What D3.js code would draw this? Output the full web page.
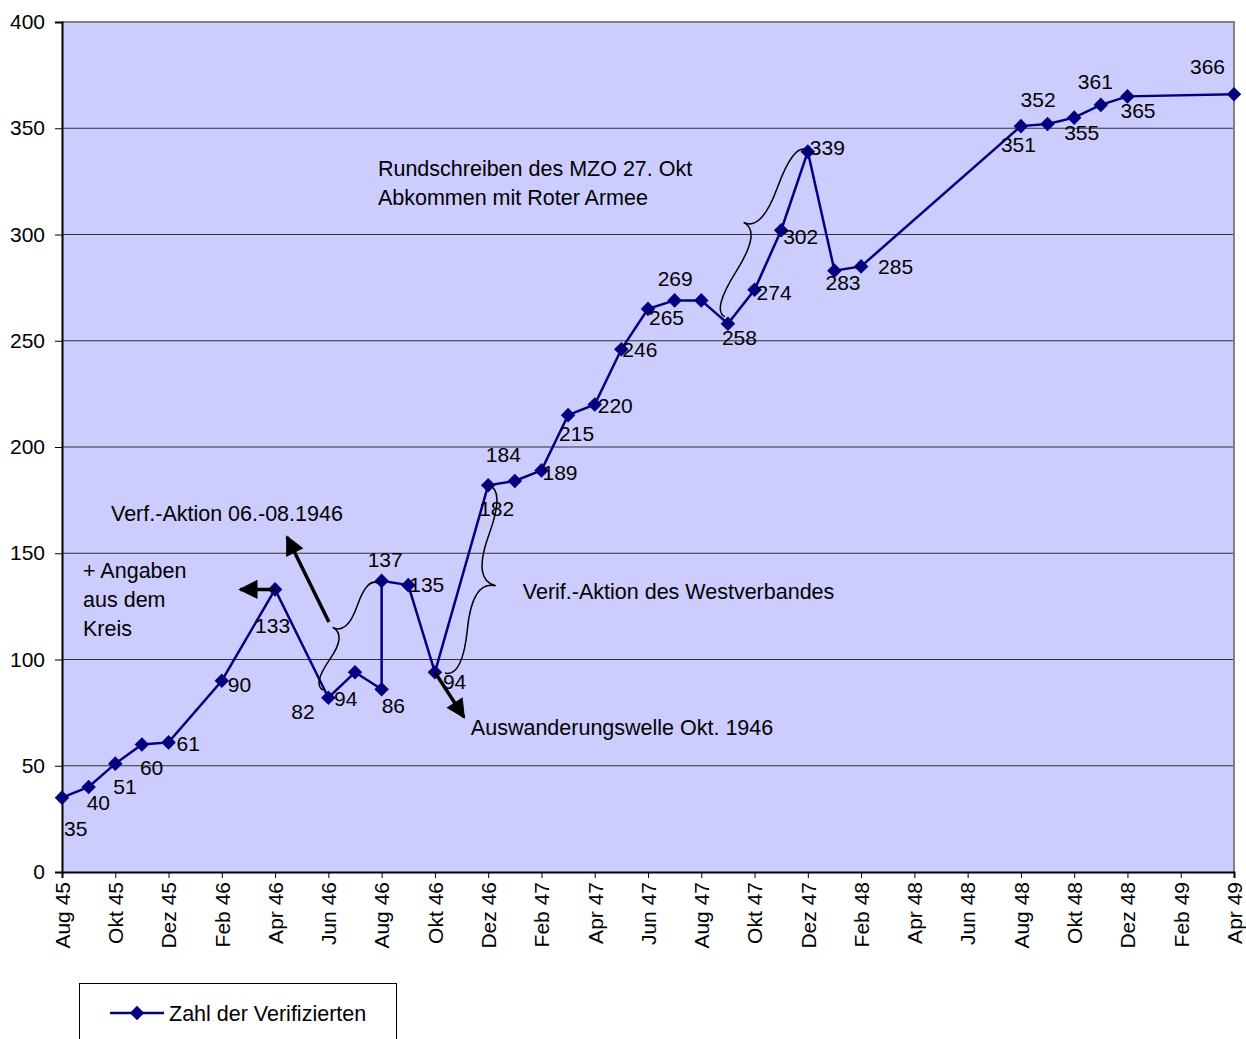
<!DOCTYPE html>
<html>
<head>
<meta charset="utf-8">
<script src="https://cdn.jsdelivr.net/npm/d3@7"></script>
<style>
  body { margin: 0; background: #fff; }
  text { font-family: "Liberation Sans", Arial, sans-serif; }
</style>
</head>
<body>
<div id="chart"></div>
<script>
// months of the readings (two readings in Aug 46)
var dates = ["1945-08","1945-09","1945-10","1945-11","1945-12","1946-02","1946-04",
  "1946-06","1946-07","1946-08","1946-08","1946-09","1946-10","1946-12",
  "1947-01","1947-02","1947-03","1947-04","1947-05","1947-06","1947-07","1947-08",
  "1947-09","1947-10","1947-11","1947-12","1948-01","1948-02",
  "1948-08","1948-09","1948-10","1948-11","1948-12","1949-04"];
var values = [35,40,51,60,61,90,133,82,94,86,137,135,94,182,184,189,215,220,246,
  265,269,269,258,274,302,339,283,285,351,352,355,361,365,366];
var tickLabels = ["Aug 45","Okt 45","Dez 45","Feb 46","Apr 46","Jun 46","Aug 46",
  "Okt 46","Dez 46","Feb 47","Apr 47","Jun 47","Aug 47","Okt 47","Dez 47","Feb 48",
  "Apr 48","Jun 48","Aug 48","Okt 48","Dez 48","Feb 49","Apr 49"];
var yTicks = [0,50,100,150,200,250,300,350,400];
var seriesName = "Zahl der Verifizierten";

// label placement for each point (px offset from the marker), null = no label
var labelOffsets = [[2,31],[-2,16],[-2,23],[-2,23],[8,1],[6,4],[-20,36],[-37,14],
  [-21,26],[0,16],[-14,-21],[1,0],[8,9],[-9,23],[-29,-26],[1,2],[-9,19],[3,1],
  [1,0],[1,9],[-17,-22],null,[-6,14],[2,3],[2,6],[2,-4],[-9,12],[17,0],
  [-20,19],[-27,-24],[-10,15],[-23,-23],[-7,14],[-44,-28]];

// annotations, anchored in (month index, value)
var notes = [
  {lines: ["Rundschreiben des MZO 27. Okt", "Abkommen mit Roter Armee"], at: [11.86, 331.3]},
  {lines: ["Verf.-Aktion 06.-08.1946"], at: [1.84, 168.5]},
  {lines: ["+ Angaben", "aus dem", "Kreis"], at: [0.79, 142.1]},
  {lines: ["Verif.-Aktion des Westverbandes"], at: [17.3, 132.2]},
  {lines: ["Auswanderungswelle Okt. 1946"], at: [15.35, 67.8]}
];
var arrows = [
  {from: [8, 133], to: [6.69, 133]},
  {from: [10.02, 117.6], to: [8.45, 157.6]},
  {from: [14, 94], to: [15.09, 72.9]}
];
var braces = [
  {a: [11.86, 136], b: [9.8, 85.6], w: 20},
  {a: [14.38, 93.6], b: [15.99, 182.1], w: 30},
  {a: [27.97, 339.8], b: [24.89, 261.2], w: 25}
];

var svgWidth = 1246, svgHeight = 1039;
var margin = {top: 22, right: 12, bottom: 167, left: 62};
var width = svgWidth - margin.left - margin.right;
var height = svgHeight - margin.top - margin.bottom;

function monthIndex(s) {
  var p = s.split("-");
  return (+p[0] - 1945) * 12 + (+p[1] - 8);
}

var data = dates.map(function(d, i) {
  return {m: monthIndex(d), v: values[i], off: labelOffsets[i]};
});

var svg = d3.select("#chart").append("svg")
  .attr("width", svgWidth)
  .attr("height", svgHeight);

var g = svg.append("g")
  .attr("transform", `translate(${margin.left}, ${margin.top})`);

var x = d3.scaleLinear().domain([0, 44]).range([0, width]);
var y = d3.scaleLinear().domain([0, 400]).range([height, 0]);

// plot background
g.append("rect")
  .attr("width", width).attr("height", height)
  .attr("fill", "#ccccff");

// grid
g.selectAll(".grid").data(yTicks.slice(1, -1)).enter().append("line")
  .attr("x1", 0).attr("x2", width)
  .attr("y1", d => y(d)).attr("y2", d => y(d))
  .attr("stroke", "#333").attr("stroke-width", 1);

// top/right frame
g.append("path")
  .attr("d", `M0,${y(400)}H${width}V${height}`)
  .attr("fill", "none").attr("stroke", "#808080").attr("stroke-width", 2);

// axes
var yAxis = g.append("g")
  .call(d3.axisLeft(y).tickValues(yTicks).tickSize(7).tickPadding(10));
var xAxis = g.append("g")
  .attr("transform", `translate(0, ${height})`)
  .call(d3.axisBottom(x).tickValues(d3.range(0, 45, 2)).tickSize(6)
    .tickFormat(d => tickLabels[d / 2]));

[yAxis, xAxis].forEach(function(a) {
  a.select(".domain").attr("stroke", "#000").attr("stroke-width", 2);
  a.selectAll(".tick line").attr("stroke", "#000");
  a.selectAll("text").attr("font-size", "21px").attr("fill", "#000")
    .style("font-family", "'Liberation Sans', Arial, sans-serif");
});
xAxis.selectAll("text")
  .attr("transform", "rotate(-90)")
  .attr("text-anchor", "end")
  .attr("x", -10).attr("y", 0).attr("dy", "0.35em");

// series line
var line = d3.line().x(d => x(d.m)).y(d => y(d.v));
g.append("path").datum(data)
  .attr("d", line)
  .attr("fill", "none").attr("stroke", "#000080").attr("stroke-width", 2.5);

var diamond = d3.symbol().type(d3.symbolDiamond2).size(135);
g.selectAll(".pt").data(data).enter().append("path")
  .attr("d", diamond)
  .attr("transform", d => `translate(${x(d.m)}, ${y(d.v)})`)
  .attr("fill", "#000080");

// value labels
g.selectAll(".lbl").data(data.filter(d => d.off)).enter().append("text")
  .attr("x", d => x(d.m) + d.off[0])
  .attr("y", d => y(d.v) + d.off[1])
  .attr("dy", "0.35em")
  .attr("font-size", "21px")
  .attr("fill", "#000")
  .text(d => d.v);

// braces
function curlyBrace(x1, y1, x2, y2, w, q) {
  var len = Math.sqrt((x1 - x2) * (x1 - x2) + (y1 - y2) * (y1 - y2));
  var dx = (x1 - x2) / len, dy = (y1 - y2) / len;
  var qx1 = x1 + q * w * dy, qy1 = y1 - q * w * dx;
  var qx2 = (x1 - .25 * len * dx) + (1 - q) * w * dy, qy2 = (y1 - .25 * len * dy) - (1 - q) * w * dx;
  var tx1 = (x1 - .5 * len * dx) + w * dy, ty1 = (y1 - .5 * len * dy) - w * dx;
  var qx3 = x2 + q * w * dy, qy3 = y2 - q * w * dx;
  var qx4 = (x1 - .75 * len * dx) + (1 - q) * w * dy, qy4 = (y1 - .75 * len * dy) - (1 - q) * w * dx;
  return `M${x1},${y1}Q${qx1},${qy1} ${qx2},${qy2}T${tx1},${ty1}` +
    `M${x2},${y2}Q${qx3},${qy3} ${qx4},${qy4}T${tx1},${ty1}`;
}
g.selectAll(".brace").data(braces).enter().append("path")
  .attr("d", d => curlyBrace(x(d.a[0]), y(d.a[1]), x(d.b[0]), y(d.b[1]), d.w, 0.6))
  .attr("fill", "none").attr("stroke", "#000").attr("stroke-width", 1.5);

// arrows
svg.append("defs").append("marker")
  .attr("id", "head")
  .attr("viewBox", "0 0 10 10")
  .attr("refX", 9).attr("refY", 5)
  .attr("markerWidth", 6).attr("markerHeight", 5.5)
  .attr("markerUnits", "strokeWidth")
  .attr("orient", "auto")
  .append("path").attr("d", "M0,0L10,5L0,10Z").attr("fill", "#000");

g.selectAll(".arrow").data(arrows).enter().append("line")
  .attr("x1", d => x(d.from[0])).attr("y1", d => y(d.from[1]))
  .attr("x2", d => x(d.to[0])).attr("y2", d => y(d.to[1]))
  .attr("stroke", "#000").attr("stroke-width", 3.5)
  .attr("marker-end", "url(#head)");

// annotation texts
var nt = g.selectAll(".note").data(notes).enter().append("text")
  .attr("x", d => x(d.at[0]))
  .attr("y", d => y(d.at[1]))
  .attr("font-size", "21.5px")
  .attr("fill", "#000");
nt.selectAll("tspan").data(d => d.lines.map(l => ({l: l, x: x(d.at[0])}))).enter()
  .append("tspan")
  .attr("x", d => d.x)
  .attr("dy", (d, i) => i === 0 ? "0.35em" : "29px")
  .text(d => d.l);

// legend
var leg = svg.append("g").attr("transform", "translate(79, 983)");
leg.append("rect")
  .attr("x", 0.5).attr("y", 0.5).attr("width", 317).attr("height", 70)
  .attr("fill", "#fff").attr("stroke", "#000").attr("stroke-width", 1);
leg.append("line")
  .attr("x1", 31).attr("x2", 85).attr("y1", 30).attr("y2", 30)
  .attr("stroke", "#000080").attr("stroke-width", 2.5);
leg.append("path")
  .attr("d", diamond)
  .attr("transform", "translate(58, 30)")
  .attr("fill", "#000080");
leg.append("text")
  .attr("x", 90).attr("y", 30).attr("dy", "0.35em")
  .attr("font-size", "21.5px").attr("fill", "#000")
  .text(seriesName);
</script>
</body>
</html>
